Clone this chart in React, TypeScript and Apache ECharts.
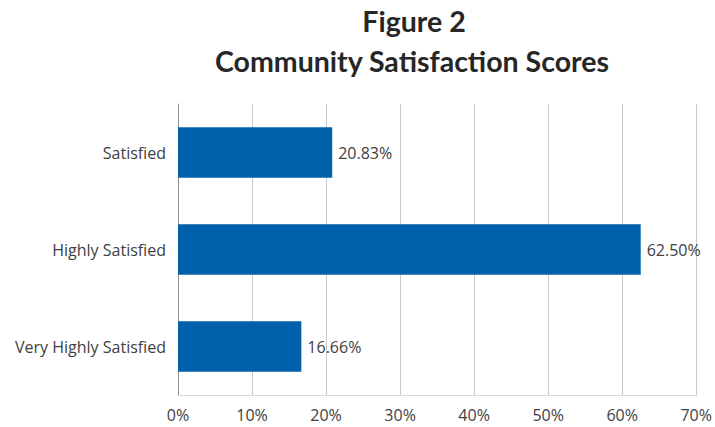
import React, { useEffect, useRef } from "react";
import * as echarts from "echarts";

const categories = ["Satisfied", "Highly Satisfied", "Very Highly Satisfied"];
const values = [20.83, 62.5, 16.66];
const titleLines = ["Figure 2", "Community Satisfaction Scores"];

export default function App() {
  const ref = useRef<HTMLDivElement>(null);
  useEffect(() => {
    if (!ref.current) return;
    const chart = echarts.init(ref.current, undefined, { renderer: "svg" });
    chart.setOption({
      animation: false,
      backgroundColor: "#ffffff",
      graphic: [
        {
          type: "text",
          x: 414,
          y: 35,
          style: {
            text: titleLines[0],
            font: "bold 28.5px Lato",
            fill: "#262626",
            textAlign: "center",
            textVerticalAlign: "bottom",
          },
        },
        {
          type: "text",
          x: 412,
          y: 75,
          style: {
            text: titleLines[1],
            font: "bold 28.5px Lato",
            fill: "#262626",
            textAlign: "center",
            textVerticalAlign: "bottom",
          },
        },
      ],
      grid: { left: 178, right: 17.5, top: 104, bottom: 32, containLabel: false },
      xAxis: {
        type: "value",
        min: 0,
        max: 70,
        interval: 10,
        axisLabel: {
          formatter: (v: number) => `${v}%`,
          color: "#404040",
          fontSize: 16,
          fontFamily: "Open Sans",
          margin: 12,
        },
        axisLine: { show: true, lineStyle: { color: "#d9d9d9" } },
        axisTick: { show: false },
        splitLine: { show: true, lineStyle: { color: "#c8c8c8", width: 1 } },
      },
      yAxis: {
        type: "category",
        data: categories,
        inverse: true,
        axisLabel: {
          color: "#404040",
          fontSize: 16,
          fontFamily: "Open Sans",
          margin: 12,
        },
        axisLine: { show: true, lineStyle: { color: "#8c8c8c" } },
        axisTick: { show: false },
      },
      series: [
        {
          type: "bar",
          data: values,
          barWidth: "52%",
          itemStyle: { color: "#0060a9" },
          label: {
            show: true,
            position: "right",
            distance: 6,
            color: "#404040",
            fontSize: 16,
            fontFamily: "Open Sans",
            formatter: (p: any) => `${Number(p.value).toFixed(2)}%`,
          },
        },
      ],
    });
    return () => chart.dispose();
  }, []);
  return <div ref={ref} style={{ width: 715, height: 427, position: "absolute", left: 0, top: 0 }} />;
}
